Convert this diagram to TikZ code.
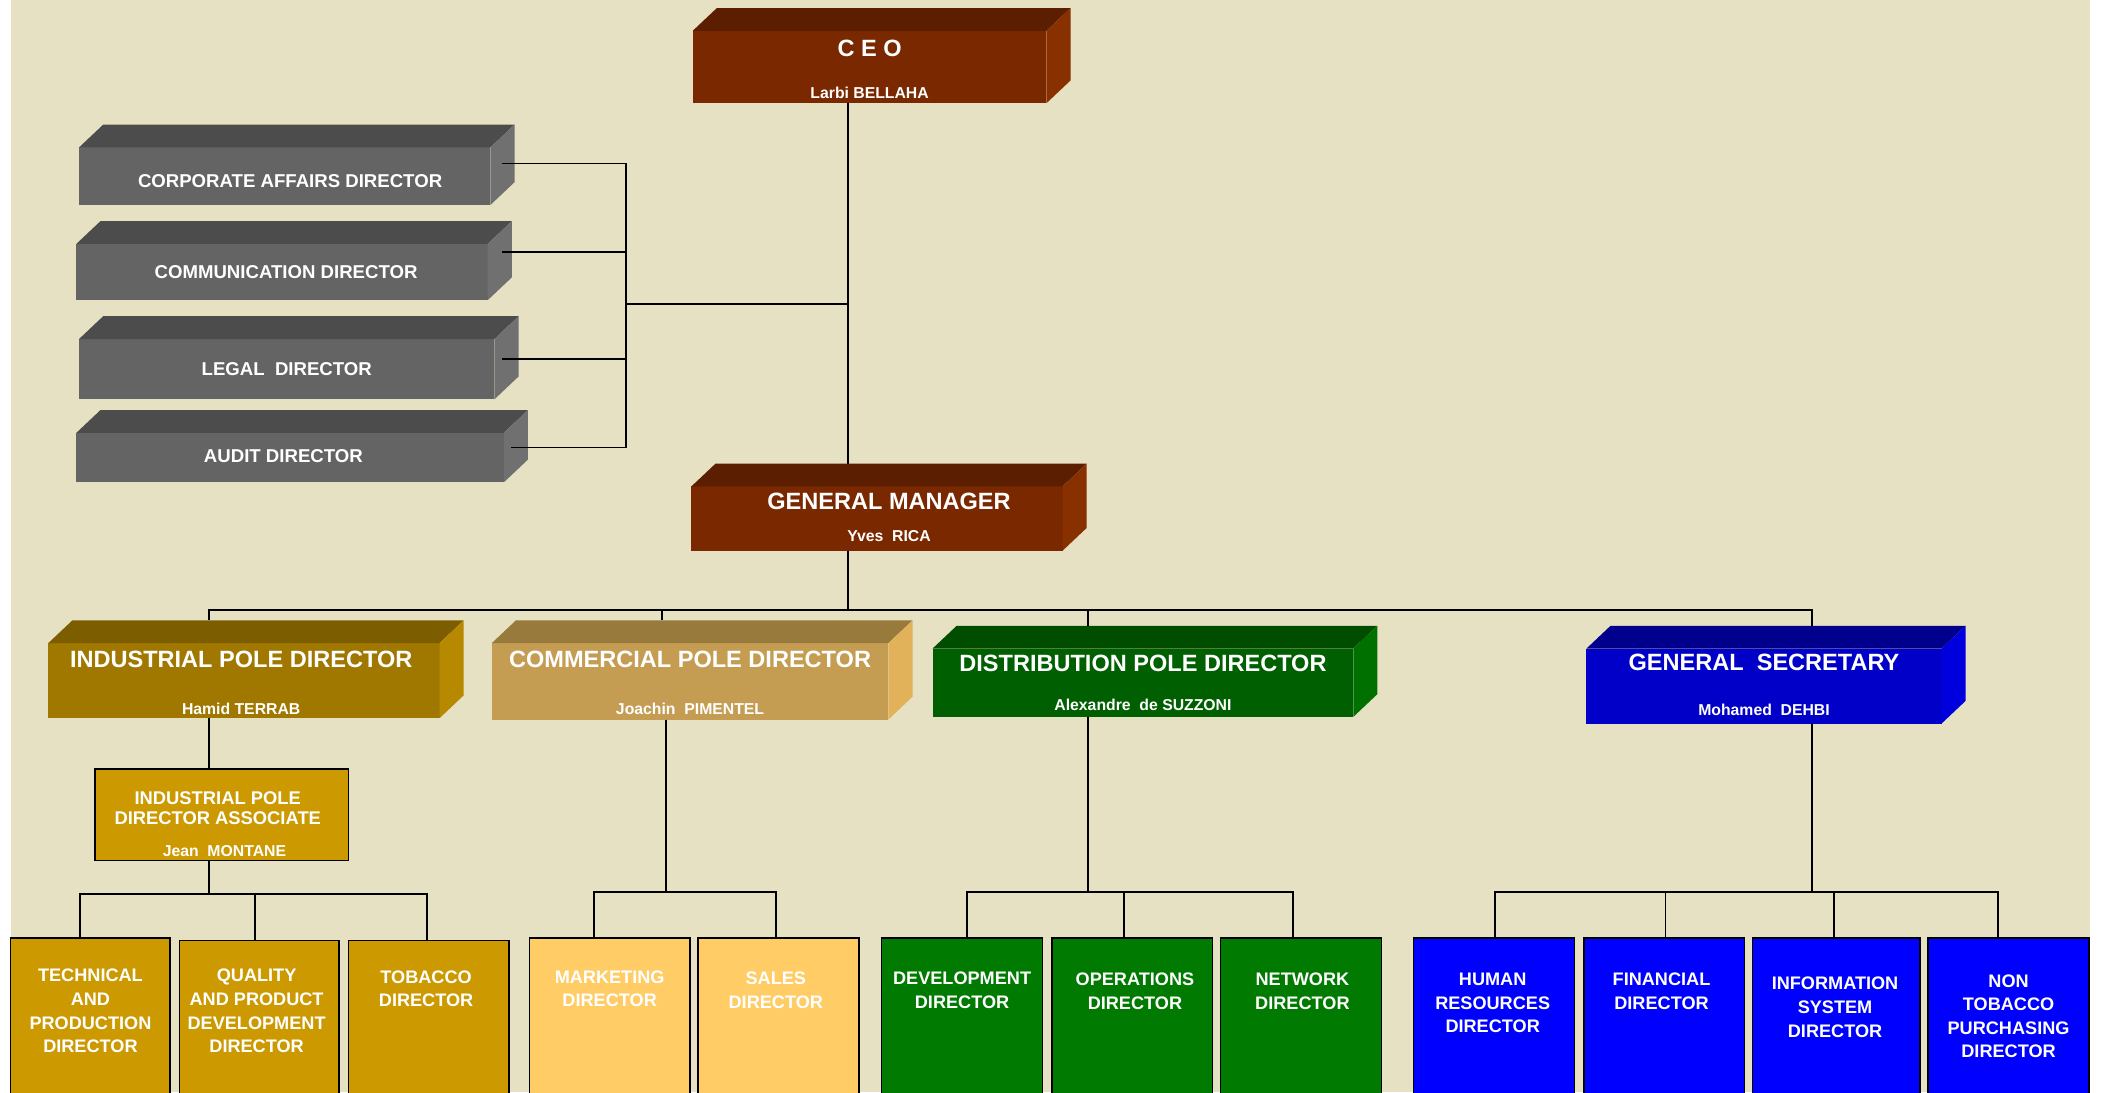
\documentclass[tikz,border=0pt]{standalone}
\usepackage{fontspec}
\setmainfont{Liberation Sans}
\usetikzlibrary{
    calc,
    fit
}
\definecolor{paper}{RGB}{231,225,195}
\definecolor{ceoFront}{RGB}{122,40,0}
\definecolor{ceoTop}{RGB}{92,30,0}
\definecolor{ceoSide}{RGB}{136,48,0}
\definecolor{staffFront}{RGB}{100,100,100}
\definecolor{staffTop}{RGB}{76,76,76}
\definecolor{staffSide}{RGB}{112,112,112}
\definecolor{indFront}{RGB}{160,120,0}
\definecolor{indTop}{RGB}{124,94,0}
\definecolor{indSide}{RGB}{182,137,0}
\definecolor{comFront}{RGB}{196,157,82}
\definecolor{comTop}{RGB}{152,122,60}
\definecolor{comSide}{RGB}{225,178,90}
\definecolor{disFront}{RGB}{0,95,0}
\definecolor{disTop}{RGB}{0,77,0}
\definecolor{disSide}{RGB}{0,112,0}
\definecolor{secFront}{RGB}{0,0,200}
\definecolor{secTop}{RGB}{0,0,140}
\definecolor{secSide}{RGB}{0,0,222}
\definecolor{goldUnit}{RGB}{204,153,0}
\definecolor{tanUnit}{RGB}{255,204,102}
\definecolor{greenUnit}{RGB}{0,122,0}
\definecolor{blueUnit}{RGB}{0,0,255}
\tikzset{
  face/.style   = {inner sep=0, outer sep=0},
  flat/.style   = {inner sep=0, outer sep=0, draw=black, line width=0.6pt},
  head/.style   = {text=white, inner sep=0, font=\fontsize{10}{12}\selectfont\bfseries},
  who/.style    = {text=white, inner sep=0, text height=4.8pt, text depth=0pt,
                   font=\fontsize{6.7}{8}\selectfont\bfseries},
  staff/.style  = {text=white, inner sep=0, font=\fontsize{7.9}{10}\selectfont\bfseries},
  unit/.style   = {text=white, inner sep=0, anchor=north, align=center,
                   font=\fontsize{7.7}{10}\selectfont\bfseries},
  wire/.style   = {draw=black, line width=0.8pt}
}
% top and right faces of a raised box
\newcommand{\slab}[3]{%
  \fill[#2] (#1.north west) -- ++(18,-17) -- ($(#1.north east)+(18,-17)$) -- (#1.north east) -- cycle;
  \fill[#3] (#1.north east) -- ++(18,-17) -- ($(#1.south east)+(18,-17)$) -- (#1.south east) -- cycle;
}

\begin{document}
\begin{tikzpicture}[x=0.2mm, y=-0.2mm]
\clip (0,0) rectangle (1568,815);
\fill[white] (0,0) rectangle (1568,815);
\fill[paper] (8,0) rectangle (1560,815);

% chief executive
\node[face, fill=ceoFront, fit={(517,23) (781,77)}] (ceo) {};
\slab{ceo}{ceoTop}{ceoSide}
\node[head] at ($(ceo.north)+(0,13)$) {C E O};
\node[who] at ($(ceo.south)+(0,-8)$) {Larbi BELLAHA};

% staff directors
\node[face, fill=staffFront, fit={(59,110) (366,153)}] (corp) {};
\node[face, fill=staffFront, fit={(57,182) (364,224)}] (comm) {};
\node[face, fill=staffFront, fit={(59,253) (369,298)}] (legal) {};
\node[face, fill=staffFront, fit={(57,323) (376,360)}] (audit) {};
\slab{corp}{staffTop}{staffSide}
\slab{comm}{staffTop}{staffSide}
\slab{legal}{staffTop}{staffSide}
\slab{audit}{staffTop}{staffSide}
\node[staff] at ($(corp.center)+(4,4)$) {CORPORATE AFFAIRS DIRECTOR};
\node[staff] at ($(comm.center)+(3,0)$) {COMMUNICATION DIRECTOR};
\node[staff] at (legal.center) {LEGAL~~DIRECTOR};
\node[staff] at ($(audit.center)+(-5,-1)$) {AUDIT DIRECTOR};

% general manager
\node[face, fill=ceoFront, fit={(516,363) (793,411)}] (gm) {};
\slab{gm}{ceoTop}{ceoSide}
\node[head] at ($(gm.north)+(9,11)$) {GENERAL MANAGER};
\node[who] at ($(gm.south)+(9,-11)$) {Yves~~RICA};

% pole directors
\node[face, fill=indFront, fit={(36,480) (328,536)}] (ind) {};
\node[face, fill=comFront, fit={(367,480) (663,537)}] (com) {};
\node[face, fill=disFront, fit={(696,484) (1010,535)}] (dis) {};
\node[face, fill=secFront, fit={(1184,484) (1449,540)}] (gs) {};
\slab{ind}{indTop}{indSide}
\slab{com}{comTop}{comSide}
\slab{dis}{disTop}{disSide}
\slab{gs}{secTop}{secSide}
\node[head] at ($(ind.north)+(-2,12)$) {INDUSTRIAL POLE DIRECTOR};
\node[who] at ($(ind.south)+(-2,-7)$) {Hamid TERRAB};
\node[head] at ($(com.north)+(0,12)$) {COMMERCIAL POLE DIRECTOR};
\node[who] at ($(com.south)+(0,-8)$) {Joachin~~PIMENTEL};
\node[head] at ($(dis.north)+(0,11)$) {DISTRIBUTION POLE DIRECTOR};
\node[who] at ($(dis.south)+(0,-9)$) {Alexandre~~de SUZZONI};
\node[head] at ($(gs.north)+(0,10)$) {GENERAL~~SECRETARY};
\node[who] at ($(gs.south)+(0,-10)$) {Mohamed~~DEHBI};

% associate
\node[flat, fill=goldUnit, fit={(71,574) (260,642)}] (assoc) {};
\node[unit, anchor=center, font=\fontsize{7.8}{8.6}\selectfont\bfseries]
  at ($(assoc.north)+(-3,29)$) {INDUSTRIAL POLE\\DIRECTOR ASSOCIATE};
\node[who] at ($(assoc.south)+(2,-7)$) {Jean~~MONTANE};

% departments
\node[flat, fill=goldUnit, fit={(8,700) (127,830)}] (tech) {};
\node[flat, fill=goldUnit, fit={(134,702) (253,830)}] (quality) {};
\node[flat, fill=goldUnit, fit={(260,702) (380,830)}] (tobacco) {};
\node[flat, fill=tanUnit, fit={(395,700) (515,830)}] (mkt) {};
\node[flat, fill=tanUnit, fit={(521,700) (641,830)}] (sales) {};
\node[flat, fill=greenUnit, fit={(658,700) (778,830)}] (dev) {};
\node[flat, fill=greenUnit, fit={(785,700) (905,830)}] (ops) {};
\node[flat, fill=greenUnit, fit={(911,700) (1031,830)}] (net) {};
\node[flat, fill=blueUnit, fit={(1055,700) (1175,830)}] (hr) {};
\node[flat, fill=blueUnit, fit={(1182,700) (1302,830)}] (fin) {};
\node[flat, fill=blueUnit, fit={(1308,700) (1433,830)}] (info) {};
\node[flat, fill=blueUnit, fit={(1439,700) (1559,830)}] (nontob) {};
\node[unit] at ($(tech.north)+(0,23)$) {TECHNICAL\\AND\\PRODUCTION\\DIRECTOR};
\node[unit] at ($(quality.north)+(-2,21)$) {QUALITY\\AND PRODUCT\\DEVELOPMENT\\DIRECTOR};
\node[unit] at ($(tobacco.north)+(-2,22)$) {TOBACCO\\DIRECTOR};
\node[unit] at ($(mkt.north)+(0,24)$) {MARKETING\\DIRECTOR};
\node[unit] at ($(sales.north)+(-2,25)$) {SALES\\DIRECTOR};
\node[unit] at ($(dev.north)+(0,25)$) {DEVELOPMENT\\DIRECTOR};
\node[unit] at ($(ops.north)+(2,26)$) {OPERATIONS\\DIRECTOR};
\node[unit] at ($(net.north)+(1,26)$) {NETWORK\\DIRECTOR};
\node[unit] at ($(hr.north)+(-1,26)$) {HUMAN\\RESOURCES\\DIRECTOR};
\node[unit] at ($(fin.north)+(-2,26)$) {FINANCIAL\\DIRECTOR};
\node[unit] at ($(info.north)+(-1,29)$) {INFORMATION\\SYSTEM\\DIRECTOR};
\node[unit] at ($(nontob.north)+(0,27)$) {NON\\TOBACCO\\PURCHASING\\DIRECTOR};

% staff bracket and trunk
\coordinate (trunk) at (633,0);
\coordinate (brk) at (467,227);
\coordinate (s1) at ($(corp.north east)+(9,12)$);
\coordinate (s2) at ($(comm.north east)+(11,6)$);
\coordinate (s3) at ($(legal.north east)+(6,15)$);
\coordinate (s4) at ($(audit.north east)+(5,11)$);
\draw[wire] (s1) -- (s1 -| brk) -- (s4 -| brk) -- (s4);
\draw[wire] (s2) -- (s2 -| brk);
\draw[wire] (s3) -- (s3 -| brk);
\draw[wire] (brk) -- (brk -| trunk);
\draw[wire] (ceo.south -| trunk) -- ($(gm.north -| trunk)+(0,-17)$);

% bus to the poles
\coordinate (bus) at (633,455);
\coordinate (d1) at ($(ind.north west)+(120,-17)$);
\coordinate (d2) at ($(com.north west)+(127,-17)$);
\coordinate (d3) at ($(dis.north west)+(116,-17)$);
\coordinate (d4) at ($(gs.north west)+(168,-17)$);
\draw[wire] (gm.south -| bus) -- (bus);
\draw[wire] (d1) -- (d1 |- bus) -- (d4 |- bus) -- (d4);
\draw[wire] (d2) -- (d2 |- bus);
\draw[wire] (d3) -- (d3 |- bus);

% industrial pole
\coordinate (ibar) at (156,667);
\coordinate (t1) at ($(tech.north)+(-8,0)$);
\coordinate (t2) at ($(quality.north)+(-3,0)$);
\coordinate (t3) at ($(tobacco.north)+(-1,0)$);
\draw[wire] (ind.south -| d1) -- (assoc.north -| d1);
\draw[wire] (assoc.south -| ibar) -- (ibar);
\draw[wire] (t1) -- (t1 |- ibar) -- (t3 |- ibar) -- (t3);
\draw[wire] (t2) -- (t2 |- ibar);

% commercial pole
\coordinate (cbar) at (497,666);
\coordinate (m1) at ($(mkt.north)+(-12,0)$);
\coordinate (m2) at ($(sales.north)+(-2,0)$);
\draw[wire] (com.south -| cbar) -- (cbar);
\draw[wire] (m1) -- (m1 |- cbar) -- (m2 |- cbar) -- (m2);

% distribution pole
\coordinate (dbar) at (812,666);
\coordinate (o1) at ($(dev.north)+(4,0)$);
\coordinate (o2) at ($(ops.north)+(-6,0)$);
\coordinate (o3) at ($(net.north)+(-6,0)$);
\draw[wire] (dis.south -| dbar) -- (dbar);
\draw[wire] (o1) -- (o1 |- dbar) -- (o3 |- dbar) -- (o3);
\draw[wire] (o2) -- (o2 |- dbar);

% general secretary
\coordinate (gbar) at (1352,666);
\coordinate (g1) at ($(hr.north)+(1,0)$);
\coordinate (g2) at ($(fin.north)+(1,0)$);
\coordinate (g3) at ($(info.north)+(-2,0)$);
\coordinate (g4) at ($(nontob.north)+(-8,0)$);
\draw[wire] (gs.south -| gbar) -- (gbar);
\draw[wire] (g1) -- (g1 |- gbar) -- (g4 |- gbar) -- (g4);
\draw[wire] (g2) -- (g2 |- gbar);
\draw[wire] (g3) -- (g3 |- gbar);
\end{tikzpicture}
\end{document}
